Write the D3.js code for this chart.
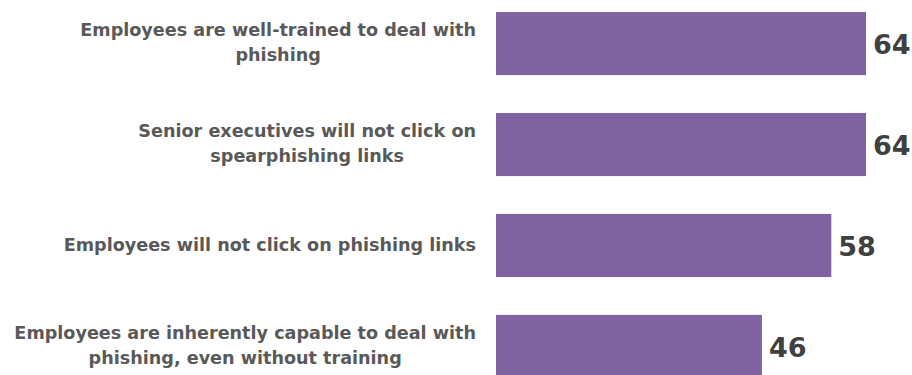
<!DOCTYPE html>
<html>
<head>
<meta charset="utf-8">
<script src="https://cdn.jsdelivr.net/npm/d3@7"></script>
<style>
  html, body { margin: 0; padding: 0; background: #ffffff; }
  svg { display: block; }
  .cat { font-family: "DejaVu Sans", Verdana, sans-serif; font-weight: bold; font-size: 17.6px; fill: #595959; }
  .val { font-family: "DejaVu Sans", Verdana, sans-serif; font-weight: bold; font-size: 27px; fill: #404040; }
</style>
</head>
<body>
<svg id="chart" width="912" height="375"></svg>
<script>
// Statements about phishing readiness, one bar each
const categories = [
  ["Employees are well-trained to deal with", "phishing"],
  ["Senior executives will not click on", "spearphishing links"],
  ["Employees will not click on phishing links"],
  ["Employees are inherently capable to deal with", "phishing, even without training"]
];
const values = [64, 64, 58, 46];

const svg = d3.select("#chart");
const barLeft = 496;
const labelRight = 476;

const x = d3.scaleLinear().domain([0, 64]).range([barLeft, 866]);
const y = d3.scaleBand()
  .domain(d3.range(values.length))
  .range([12, 378])
  .paddingInner(0.375)
  .paddingOuter(0);

const rows = svg.selectAll("g.row")
  .data(values.map((v, i) => ({ v, i, lines: categories[i] })))
  .join("g")
  .attr("class", "row");

rows.append("rect")
  .attr("x", x(0))
  .attr("y", d => y(d.i))
  .attr("width", d => x(d.v) - x(0))
  .attr("height", y.bandwidth())
  .attr("fill", "#8064A2");

rows.append("text")
  .attr("class", "val")
  .attr("x", d => x(d.v) + 7)
  .attr("y", d => y(d.i) + y.bandwidth() / 2 + 1)
  .attr("dy", "0.36em")
  .text(d => d.v);

// Category labels: block right-aligned to the bars, lines centred within the block
const lineH = 25;
rows.each(function(d) {
  const g = d3.select(this);
  const t = g.append("text").attr("class", "cat");
  const n = d.lines.length;
  const cy = y(d.i) + y.bandwidth() / 2 - 1;
  const spans = d.lines.map((s, k) => t.append("tspan")
    .attr("y", cy + (k - (n - 1) / 2) * lineH)
    .attr("dy", "0.36em")
    .text(s));
  const maxW = d3.max(spans, s => s.node().getComputedTextLength());
  const cx = labelRight - maxW / 2;
  spans.forEach(s => s.attr("x", cx).attr("text-anchor", "middle"));
});
</script>
</body>
</html>
